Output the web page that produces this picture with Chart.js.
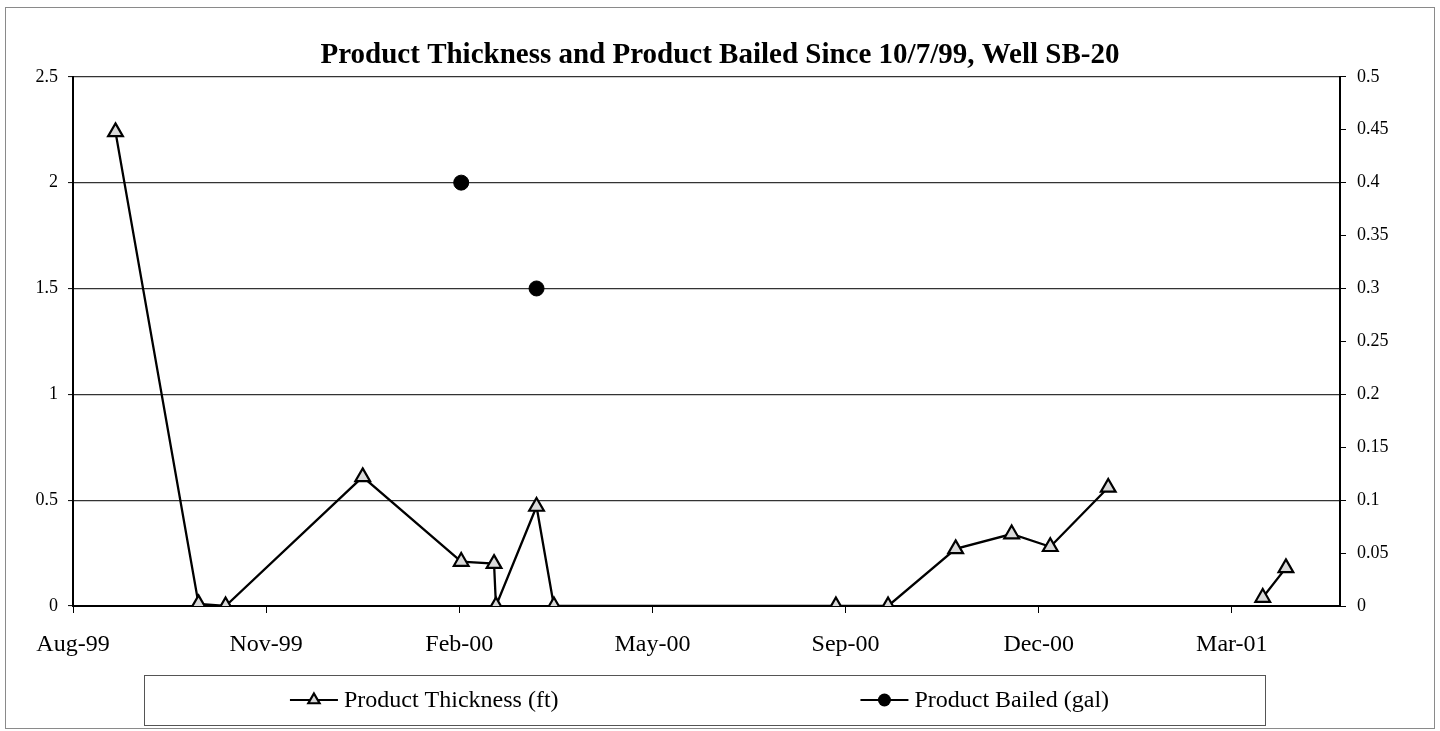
<!DOCTYPE html>
<html>
<head>
<meta charset="utf-8">
<script src="https://cdn.jsdelivr.net/npm/chart.js@4.4.1/dist/chart.umd.min.js"></script>
<style>
  html, body { margin: 0; padding: 0; background: #fff; }
  #wrap { width: 1440px; height: 731px; position: relative; }
</style>
</head>
<body>
<div id="wrap"><canvas id="chart" width="1440" height="731"></canvas></div>
<script>
// ---- data ----
const thickDates = ['1999-08-25', '1999-10-07', '1999-10-21', '1999-12-31', '2000-02-20', '2000-03-08',
  '2000-03-09', '2000-03-30', '2000-04-08', '2000-09-01', '2000-09-28', '2000-11-02', '2000-12-01',
  '2000-12-21', '2001-01-20', '2001-02-25', '2001-04-10', '2001-04-22'];
const thickValues = [2.24, 0.01, 0, 0.61, 0.21, 0.2, 0, 0.47, 0, 0, 0, 0.27, 0.34, 0.28, 0.56, null, 0.04, 0.18];

const bailDates = ['2000-02-20', '2000-03-30'];
const bailValues = [0.4, 0.3];

const xTickDates = ['1999-08-03', '1999-11-11', '2000-02-19', '2000-05-29', '2000-09-06', '2000-12-15', '2001-03-25'];
const xTickLabels = ['Aug-99', 'Nov-99', 'Feb-00', 'May-00', 'Sep-00', 'Dec-00', 'Mar-01'];
const xMinDate = '1999-08-03';
const xMaxDate = '2001-05-20';

const FONT = '"Liberation Serif", "Times New Roman", serif';

function dayNum(s) {
  return Date.parse(s + 'T00:00:00Z') / 86400000;
}

function drawMarker(ctx, style, x, y, r) {
  ctx.beginPath();
  if (style === 'triangle') {
    for (let k = 0; k < 3; k++) {
      const a = -Math.PI / 2 + k * 2 * Math.PI / 3;
      const px = x + Math.cos(a) * r, py = y + Math.sin(a) * r;
      k === 0 ? ctx.moveTo(px, py) : ctx.lineTo(px, py);
    }
    ctx.closePath();
    ctx.fillStyle = '#d9d9d9';
    ctx.fill();
    ctx.lineWidth = 2.2;
    ctx.strokeStyle = '#000';
    ctx.stroke();
  } else {
    ctx.arc(x, y, r, 0, Math.PI * 2);
    ctx.fillStyle = '#000';
    ctx.fill();
  }
}

// page frame + boxed legend (Excel style)
const frame = {
  id: 'frame',
  beforeDraw(chart) {
    const ctx = chart.ctx;
    ctx.save();
    ctx.fillStyle = '#fff';
    ctx.fillRect(0, 0, chart.width, chart.height);
    ctx.strokeStyle = '#8a8a8a';
    ctx.lineWidth = 1;
    ctx.strokeRect(5.5, 7.5, 1429, 721);
    ctx.restore();
  },
  afterDraw(chart) {
    const ctx = chart.ctx;
    const box = { x: 144, y: 675, w: 1121, h: 50 };
    ctx.save();
    ctx.strokeStyle = '#555';
    ctx.lineWidth = 1;
    ctx.strokeRect(box.x + 0.5, box.y + 0.5, box.w, box.h);
    ctx.font = '24px ' + FONT;
    ctx.textBaseline = 'middle';
    chart.data.datasets.forEach((ds, i) => {
      const tw = ctx.measureText(ds.label).width;
      const itemW = 48 + 6 + tw;
      const cx = box.x + box.w * (2 * i + 1) / 4;
      const x0 = cx - itemW / 2;
      const cy = box.y + box.h / 2;
      ctx.beginPath();
      ctx.moveTo(x0, cy);
      ctx.lineTo(x0 + 48, cy);
      ctx.lineWidth = 2.2;
      ctx.strokeStyle = '#000';
      ctx.stroke();
      drawMarker(ctx, ds.pointStyle === 'triangle' ? 'triangle' : 'circle', x0 + 24, cy, 6.5);
      ctx.fillStyle = '#000';
      ctx.fillText(ds.label, x0 + 54, cy + 1);
    });
    ctx.restore();
  }
};

new Chart(document.getElementById('chart'), {
  type: 'line',
  data: {
    datasets: [
      {
        label: 'Product Thickness (ft)',
        data: thickDates.map((d, i) => ({ x: dayNum(d), y: thickValues[i] })),
        yAxisID: 'y',
        borderColor: '#000',
        borderWidth: 2.3,
        pointStyle: 'triangle',
        pointRadius: 8.5,
        pointBackgroundColor: '#d9d9d9',
        pointBorderColor: '#000',
        pointBorderWidth: 2.2,
        spanGaps: false,
        tension: 0
      },
      {
        label: 'Product Bailed (gal)',
        data: bailDates.map((d, i) => ({ x: dayNum(d), y: bailValues[i] })),
        yAxisID: 'y2',
        showLine: false,
        borderColor: '#000',
        pointStyle: 'circle',
        pointRadius: 7.5,
        pointBackgroundColor: '#000',
        pointBorderColor: '#000'
      }
    ]
  },
  options: {
    responsive: false,
    animation: false,
    layout: { padding: 0 },
    plugins: {
      legend: { display: false },
      tooltip: { enabled: false },
      title: {
        display: true,
        text: 'Product Thickness and Product Bailed Since 10/7/99, Well SB-20',
        color: '#000',
        font: { family: FONT, size: 29, weight: 'bold' },
        padding: { top: 38, bottom: 4 }
      }
    },
    scales: {
      x: {
        type: 'linear',
        min: dayNum(xMinDate),
        max: dayNum(xMaxDate),
        afterBuildTicks: (scale) => {
          scale.ticks = xTickDates.map(d => ({ value: dayNum(d) }));
        },
        afterFit: (scale) => { scale.height = 125; },
        grid: { drawOnChartArea: false, drawTicks: true, tickLength: 7, tickColor: '#000', tickWidth: 1 },
        border: { color: '#000', width: 2 },
        ticks: {
          autoSkip: false,
          maxRotation: 0,
          padding: 17,
          color: '#000',
          font: { family: FONT, size: 24 },
          callback: (v, i) => xTickLabels[i]
        }
      },
      y: {
        position: 'left',
        min: 0,
        max: 2.5,
        afterFit: (scale) => { scale.width = 73; },
        grid: { color: '#333', lineWidth: 1.2, tickLength: 5, tickColor: '#000', tickWidth: 1 },
        border: { color: '#000', width: 2 },
        ticks: {
          stepSize: 0.5,
          padding: 10,
          color: '#000',
          font: { family: FONT, size: 18 },
          callback: (v) => String(+v.toFixed(1))
        }
      },
      y2: {
        position: 'right',
        min: 0,
        max: 0.5,
        afterFit: (scale) => { scale.width = 100; },
        grid: { drawOnChartArea: false, tickLength: 6, tickColor: '#000', tickWidth: 1 },
        border: { color: '#000', width: 2 },
        ticks: {
          stepSize: 0.05,
          padding: 11,
          color: '#000',
          font: { family: FONT, size: 18 },
          callback: (v) => String(+v.toFixed(2))
        }
      }
    }
  },
  plugins: [frame]
});
</script>
</body>
</html>
